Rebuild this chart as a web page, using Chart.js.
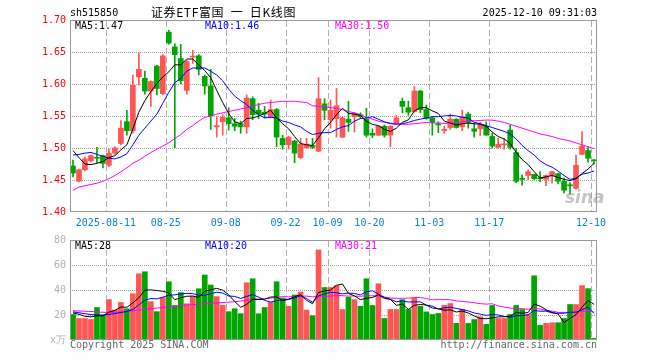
<!DOCTYPE html>
<html>
<head>
<meta charset="utf-8">
<script src="https://cdn.jsdelivr.net/npm/chart.js@4/dist/chart.umd.min.js"></script>
<style>
  body { margin: 0; background: #fff; }
  #wrap { position: relative; width: 660px; height: 360px; overflow: hidden; }
  canvas { position: absolute; left: 0; }
  .t { position: absolute; font-family: "DejaVu Sans Mono", monospace; font-size: 10px; line-height: 12px; white-space: pre; }
</style>
</head>
<body>
<div id="wrap">
  <canvas id="kChart" width="660" height="230" style="top:0"></canvas>
  <canvas id="volChart" width="660" height="135" style="top:225px"></canvas>

  <div class="t" style="left:70px;top:7px;color:#000">sh515850</div>
  <div class="t" style="left:151px;top:5px;font-family:'Noto Sans CJK SC';font-size:12px;line-height:14px;letter-spacing:0.6px;color:#000">证券ETF富国  一  日K线图</div>
  <div class="t" style="right:63px;top:7px;color:#000">2025-12-10 09:31:03</div>

  <div class="t" style="left:75px;top:20px;color:#000">MA5:1.47</div>
  <div class="t" style="left:205px;top:20px;color:#0000ff">MA10:1.46</div>
  <div class="t" style="left:335px;top:20px;color:#ff00ff">MA30:1.50</div>

  <div class="t" style="left:75px;top:240px;color:#000">MA5:28</div>
  <div class="t" style="left:205px;top:240px;color:#0000ff">MA10:20</div>
  <div class="t" style="left:335px;top:240px;color:#ff00ff">MA30:21</div>

  <div class="t" style="left:70px;top:339px;color:#666">Copyright 2025 SINA.COM</div>
  <div class="t" style="right:63px;top:339px;color:#666">http://finance.sina.com.cn</div>
  <div class="t" style="left:565px;top:188px;font-family:'DejaVu Sans';font-style:italic;font-weight:bold;font-size:17px;line-height:18px;color:rgba(150,150,150,0.55)">sina</div>
</div>

<script>
// 交易日 (2025-08-01 .. 2025-12-10)
const dates = ['08-01','08-04','08-05','08-06','08-07','08-08','08-11','08-12','08-13','08-14','08-15','08-18','08-19','08-20','08-21','08-22','08-25','08-26','08-27','08-28','08-29',
  '09-01','09-02','09-03','09-04','09-05','09-08','09-09','09-10','09-11','09-12','09-15','09-16','09-17','09-18','09-19','09-22','09-23','09-24','09-25','09-26','09-29','09-30',
  '10-09','10-10','10-13','10-14','10-15','10-16','10-17','10-20','10-21','10-22','10-23','10-24','10-27','10-28','10-29','10-30','10-31',
  '11-03','11-04','11-05','11-06','11-07','11-10','11-11','11-12','11-13','11-14','11-17','11-18','11-19','11-20','11-21','11-24','11-25','11-26','11-27','11-28',
  '12-01','12-02','12-03','12-04','12-05','12-08','12-09','12-10'];

// labels shown under the dashed lines
const axisLabels = ['2025-08-11','08-25','09-08','09-22','10-09','10-20','11-03','11-17','12-10'];

const opens = [1.472,1.448,1.466,1.480,1.485,1.488,1.473,1.492,1.507,1.541,
  1.527,1.611,1.609,1.589,1.628,1.585,1.681,1.658,1.640,1.590,
  1.642,1.644,1.612,1.597,1.533,1.541,1.547,1.538,1.538,1.533,
  1.577,1.559,1.556,1.549,1.560,1.515,1.505,1.511,1.485,1.500,
  1.504,1.495,1.569,1.544,1.546,1.517,1.545,1.549,1.552,1.545,
  1.523,1.520,1.534,1.520,1.539,1.573,1.563,1.557,1.589,1.560,
  1.547,1.537,1.527,1.532,1.545,1.533,1.553,1.530,1.530,1.534,
  1.518,1.501,1.505,1.528,1.493,1.452,1.457,1.459,1.453,1.451,
  1.457,1.460,1.448,1.442,1.437,1.490,1.496,1.481];
const highs = [1.481,1.467,1.486,1.489,1.501,1.489,1.498,1.502,1.543,1.559,
  1.614,1.649,1.620,1.605,1.629,1.646,1.684,1.663,1.662,1.637,
  1.653,1.646,1.614,1.623,1.549,1.552,1.563,1.546,1.542,1.583,
  1.580,1.570,1.565,1.575,1.562,1.520,1.518,1.512,1.515,1.515,
  1.515,1.610,1.577,1.575,1.593,1.548,1.573,1.555,1.555,1.562,
  1.530,1.535,1.536,1.535,1.551,1.578,1.573,1.596,1.590,1.567,
  1.549,1.541,1.534,1.553,1.546,1.559,1.556,1.538,1.540,1.541,
  1.523,1.515,1.515,1.536,1.4995,1.458,1.466,1.459,1.463,1.458,
  1.464,1.461,1.453,1.446,1.489,1.5255,1.502,1.482];
const lows = [1.455,1.447,1.464,1.478,1.477,1.469,1.471,1.490,1.505,1.520,
  1.523,1.598,1.584,1.565,1.583,1.583,1.662,1.500,1.600,1.584,
  1.632,1.614,1.584,1.529,1.517,1.520,1.528,1.527,1.523,1.523,
  1.544,1.546,1.547,1.547,1.502,1.498,1.498,1.477,1.483,1.499,
  1.499,1.494,1.544,1.531,1.517,1.516,1.526,1.525,1.546,1.517,
  1.516,1.519,1.517,1.502,1.538,1.555,1.551,1.556,1.555,1.545,
  1.520,1.524,1.523,1.529,1.531,1.527,1.531,1.517,1.519,1.520,
  1.4995,1.4995,1.498,1.498,1.446,1.442,1.450,1.450,1.447,1.441,
  1.445,1.444,1.430,1.428,1.4355,1.489,1.478,1.475];
const closes = [1.461,1.466,1.483,1.488,1.484,1.476,1.492,1.500,1.531,1.527,
  1.598,1.623,1.589,1.604,1.593,1.644,1.664,1.646,1.605,1.635,
  1.643,1.623,1.597,1.550,1.535,1.548,1.538,1.534,1.533,1.578,
  1.552,1.553,1.553,1.560,1.517,1.505,1.517,1.492,1.506,1.506,
  1.501,1.577,1.559,1.559,1.566,1.547,1.540,1.554,1.549,1.520,
  1.520,1.534,1.520,1.534,1.547,1.565,1.556,1.589,1.560,1.546,
  1.540,1.536,1.529,1.545,1.532,1.549,1.540,1.526,1.536,1.520,
  1.503,1.506,1.506,1.501,1.448,1.451,1.463,1.452,1.452,1.457,
  1.463,1.448,1.434,1.441,1.473,1.503,1.484,1.480];

const ma5 = [1.496,1.485,1.475,1.474,1.476,1.479,1.485,1.488,1.497,1.505,
  1.530,1.556,1.574,1.588,1.601,1.611,1.619,1.630,1.630,1.639,
  1.639,1.630,1.621,1.610,1.590,1.571,1.554,1.541,1.538,1.546,
  1.547,1.550,1.554,1.559,1.547,1.538,1.530,1.518,1.507,1.505,
  1.504,1.516,1.530,1.540,1.552,1.562,1.554,1.553,1.551,1.542,
  1.537,1.535,1.529,1.526,1.531,1.540,1.544,1.558,1.563,1.563,
  1.558,1.554,1.542,1.539,1.536,1.538,1.539,1.538,1.537,1.534,
  1.525,1.518,1.514,1.507,1.493,1.482,1.474,1.463,1.453,1.455,
  1.457,1.454,1.451,1.449,1.452,1.460,1.467,1.476];
const ma10 = [1.489,1.490,1.492,1.493,1.490,1.487,1.484,1.483,1.486,1.491,
  1.505,1.520,1.531,1.542,1.553,1.570,1.587,1.602,1.609,1.620,
  1.625,1.625,1.625,1.620,1.614,1.605,1.592,1.581,1.574,1.568,
  1.559,1.552,1.547,1.548,1.547,1.542,1.540,1.536,1.533,1.526,
  1.521,1.523,1.524,1.524,1.529,1.533,1.535,1.542,1.546,1.547,
  1.549,1.545,1.541,1.538,1.537,1.538,1.540,1.543,1.545,1.547,
  1.549,1.549,1.550,1.551,1.550,1.548,1.547,1.540,1.538,1.535,
  1.532,1.529,1.526,1.522,1.514,1.504,1.496,1.489,1.480,1.474,
  1.470,1.464,1.457,1.451,1.453,1.459,1.461,1.464];
const ma30 = [1.434,1.439,1.441,1.443,1.445,1.448,1.452,1.457,1.463,1.469,
  1.476,1.481,1.487,1.493,1.498,1.503,1.508,1.515,1.521,1.529,
  1.535,1.542,1.548,1.550,1.553,1.555,1.557,1.559,1.561,1.563,
  1.565,1.568,1.570,1.571,1.572,1.573,1.573,1.573,1.572,1.571,
  1.566,1.565,1.564,1.563,1.562,1.560,1.557,1.555,1.552,1.548,
  1.545,1.542,1.540,1.539,1.538,1.537,1.537,1.538,1.539,1.540,
  1.539,1.539,1.5385,1.539,1.540,1.541,1.542,1.5425,1.543,1.5437,
  1.5435,1.542,1.540,1.537,1.534,1.531,1.528,1.525,1.522,1.520,
  1.518,1.515,1.513,1.511,1.508,1.505,1.502,1.499];

// 成交量 (万)
const volumes = [20.4,17.2,17.2,16.4,26.0,19.6,32.3,24,30,25,
  37,53,54.6,30.7,22.7,34,46.6,27.6,37.9,29,
  35,41,52,44,34.7,27.8,22.7,25,21,45.8,
  49,21,26,30,46.6,33.6,27,36,38.4,24,
  19.5,72,42,42,43.5,24.4,34.2,32.3,27,49,
  27.6,45,17.2,24.4,24.4,32.3,24.4,33.7,27,22.5,
  20.4,21.2,27.8,29.2,13.3,24.4,13.3,16.4,18.6,12.5,
  27.6,17.2,17.2,20.4,27.6,24.4,20.4,51.4,11.7,13.3,
  13.8,13.8,17.2,28.4,28.4,43.5,41.1,1.3];
const volMa5 = [21.7,20.5,19,18.5,19.4,19.3,22.3,23.7,26.4,26.2,
  29.7,33.8,39.9,40.1,39.6,39,37.7,32.3,33.8,35,
  35.2,34.1,39,40.2,41.3,39.9,36.2,30.8,26.2,28.5,
  32.7,32.4,32.6,34.4,34.5,31.4,32.6,34.6,36.3,31.8,
  29,38,39.2,39.9,43.8,44.8,37.2,35.3,32.3,33.4,
  34,36.2,33.2,32.6,27.7,28.7,24.5,27.8,28.4,28,
  25.6,25,23.8,24.2,22.4,23.2,21.6,19.3,17.2,17,
  17.7,18.5,18.6,19,22,21.4,22,28.8,27.1,24.2,
  22.1,20.8,14,17.3,20.3,26.3,31.7,28.5];
const volMa10 = [22.5,21.8,21,20.4,20,20,20.4,21.2,22,22.8,
  24.5,28.1,31.8,33.2,32.9,34.3,35.8,36.1,36.9,37.3,
  37.1,35.9,35.7,37,38.2,37.6,35.2,34.9,33.2,34.9,
  36.3,34.3,31.7,30.3,31.5,32.1,32.5,33.6,35.3,33.2,
  30.2,35.3,36.9,38.1,37.8,36.9,37.6,37.2,36.1,38.6,
  39.4,36.7,34.2,32.5,30.6,31.3,30.4,30.5,30.5,27.9,
  27.1,24.8,25.8,26.3,25.2,24.4,23.3,21.6,20.7,19.7,
  20.4,20,19,18.1,19.5,19.5,20.2,23.7,23,23.1,
  21.7,21.4,21.4,22.2,22.3,24.2,26.3,21.3];
const volMa30 = [23.4,23.2,23,22.8,22.5,22.2,22,22.2,22.5,23,
  23.5,24,24.5,25,25.5,26,26.5,27,27.5,28,
  28.3,28.7,29,29.3,29.6,30,30.3,30.6,31.2,31.7,
  32.6,32.8,33,33.5,34.2,34.7,34.5,34.9,35.2,35.1,
  34.5,35.2,34.8,35.1,35.8,35.5,35.1,35.2,34.9,35.6,
  35.3,35.4,34.3,33.6,33.3,33.4,33.5,33.8,34,33.2,
  32.2,32.3,32.3,32.3,31.2,30.9,30.4,29.8,29.1,28.7,
  29,27.2,26.3,25.6,25.1,25.1,24.6,25.3,24.8,23.6,
  23.1,22.1,22.1,22.2,22.3,22.7,23.3,22.2];

window.onload = function () {
    const RED = '#ff5555';
    const GREEN = '#00a600';
    const MONO = 'DejaVu Sans Mono';

    // 涨红跌绿
    const colors = opens.map((o, i) => closes[i] >= o ? RED : GREEN);
    const bodies = opens.map((o, i) => [o, closes[i]]);
    const wicks = lows.map((l, i) => [l, highs[i]]);

    const isMarked = i => axisLabels.some(l => l.endsWith(dates[i]));

    // grid (dotted value lines, dashed date lines) drawn last, only on empty pixels, then the frame
    const framePlugin = {
        id: 'frame',
        afterDraw(chart) {
            const a = chart.chartArea, c = chart.ctx;
            const xs = chart.scales.x, ys = chart.scales.y;
            const w = chart.width, h = chart.height;
            const src = c.getImageData(0, 0, w, h).data;
            const free = (x, y) => {
                const k = (y * w + x) * 4;
                return src[k + 3] < 40 || (src[k] > 235 && src[k + 1] > 235 && src[k + 2] > 235);
            };
            const left = Math.round(a.left) + 1, right = Math.round(a.right) - 1;
            const top = Math.round(a.top) + 1, bottom = Math.round(a.bottom) - 1;
            const half = (xs.getPixelForValue(1) - xs.getPixelForValue(0)) / 2;

            c.save();
            c.fillStyle = '#a0a0a0';
            ys.ticks.forEach(t => {
                if (t.value <= ys.min + 1e-6 || t.value >= ys.max - 1e-6) return;
                const y = Math.round(ys.getPixelForValue(t.value));
                for (let x = left + 1; x < right; x += 2) {
                    if (free(x, y)) c.fillRect(x, y, 1, 1);
                }
            });
            c.fillStyle = '#b0b0b0';
            dates.forEach((d, i) => {
                if (!isMarked(i)) return;
                const x = Math.round(xs.getPixelForValue(i) - half);
                for (let y = top; y < bottom; y++) {
                    if ((y - top) % 9 < 6 && free(x, y)) c.fillRect(x, y, 1, 1);
                }
            });
            c.strokeStyle = '#999';
            c.lineWidth = 1;
            c.strokeRect(a.left + 0.5, a.top + 0.5, a.right - a.left - 1, a.bottom - a.top - 1);
            c.restore();
        }
    };

    const lineSet = (data, color) => ({
        type: 'line', data: data, borderColor: color, borderWidth: 1,
        pointRadius: 0, tension: 0, order: 0
    });

    const xAxis = (showLabels, height) => ({
        offset: true,
        grid: { display: false, offset: true, drawTicks: false },
        border: { display: false },
        ticks: {
            display: showLabels, autoSkip: false, maxRotation: 0, minRotation: 0,
            labelOffset: -3, padding: 5, color: '#0a80d8',
            font: { family: MONO, size: 10 },
            callback: (v, i) => axisLabels.find(s => s.endsWith(dates[i])) || ''
        },
        afterFit: s => { s.height = height; }
    });

    new Chart(document.getElementById('kChart'), {
        type: 'bar',
        data: {
            labels: dates,
            datasets: [
                lineSet(ma5, '#000000'),
                lineSet(ma10, '#0000ff'),
                lineSet(ma30, '#ff00ff'),
                { data: bodies, backgroundColor: colors, barThickness: 5, minBarLength: 1, grouped: false, order: 1 },
                { data: wicks, backgroundColor: colors, barThickness: 1, grouped: false, order: 2 }
            ]
        },
        options: {
            responsive: false,
            animation: false,
            layout: { padding: { top: 20, right: 63, left: 0, bottom: 0 } },
            plugins: { legend: { display: false }, tooltip: { enabled: false } },
            scales: {
                x: xAxis(true, 18),
                y: {
                    min: 1.40, max: 1.70,
                    grid: { display: false, drawTicks: false },
                    border: { display: false },
                    ticks: {
                        stepSize: 0.05, padding: 4, color: '#ff0000',
                        font: { family: MONO, size: 10 },
                        callback: v => v.toFixed(2)
                    },
                    afterFit: s => { s.width = 70; }
                }
            }
        },
        plugins: [framePlugin]
    });

    new Chart(document.getElementById('volChart'), {
        type: 'bar',
        data: {
            labels: dates,
            datasets: [
                lineSet(volMa5, '#000000'),
                lineSet(volMa10, '#0000ff'),
                lineSet(volMa30, '#ff00ff'),
                { data: volumes, backgroundColor: colors, barThickness: 5, grouped: false, order: 1 }
            ]
        },
        options: {
            responsive: false,
            animation: false,
            layout: { padding: { top: 15, right: 63, left: 0, bottom: 0 } },
            plugins: { legend: { display: false }, tooltip: { enabled: false } },
            scales: {
                x: xAxis(false, 20),
                y: {
                    min: 0, max: 80,
                    grid: { display: false, drawTicks: false },
                    border: { display: false },
                    ticks: {
                        stepSize: 20, padding: 4, color: '#b0b0b0',
                        font: { family: MONO, size: 10 },
                        callback: v => v === 0 ? 'x万' : v
                    },
                    afterFit: s => { s.width = 70; }
                }
            }
        },
        plugins: [framePlugin]
    });
};
</script>
</body>
</html>
